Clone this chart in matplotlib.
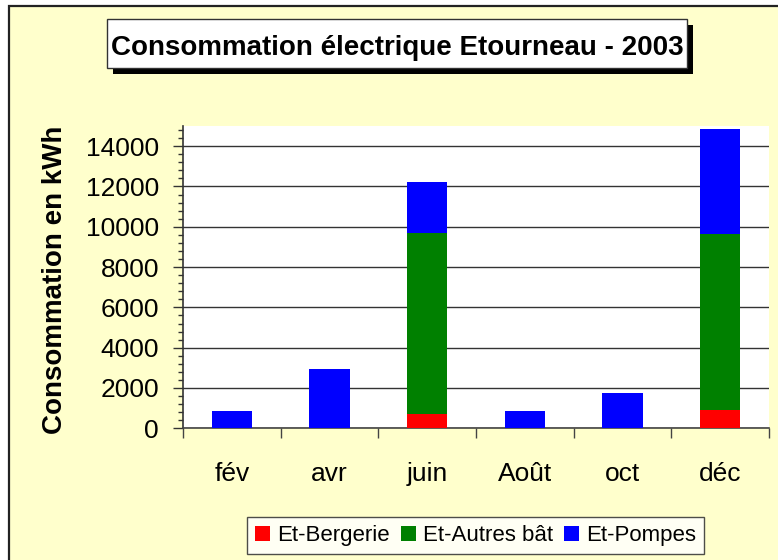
import matplotlib
matplotlib.use("Agg")
import matplotlib.pyplot as plt
from matplotlib.patches import Rectangle
from matplotlib.ticker import MultipleLocator, FixedLocator
import numpy as np

plt.rcParams['font.family'] = ['Liberation Sans', 'DejaVu Sans']

months = ['fév', 'avr', 'juin', 'Août', 'oct', 'déc']
bergerie = [0, 0, 720, 0, 0, 920]
autres = [0, 0, 8960, 0, 0, 8720]
pompes = [860, 2920, 2520, 860, 1750, 5190]
series_names = ['Et-Bergerie', 'Et-Autres bât', 'Et-Pompes']
series_colors = ['#FF0000', '#008000', '#0000FF']
title = 'Consommation électrique Etourneau - 2003'
ylabel = 'Consommation en kWh'

W, H = 778, 560
fig = plt.figure(figsize=(W / 100, H / 100), dpi=100)
fig.patch.set_facecolor('white')

def fx(px):
    return px / W

def fy(py):
    return 1 - py / H

# yellow chart area with border
fig.patches.append(Rectangle((fx(9), -0.1), 1.2, fy(6) + 0.1, transform=fig.transFigure,
                             facecolor='#FFFFCC', edgecolor='#222222', lw=1.6, zorder=-2))

# title box with shadow
bx0, bx1, by0, by1 = 107, 687, 19, 68
fig.patches.append(Rectangle((fx(bx0 + 6), fy(by1 + 6)), fx(bx1 - bx0), (by1 - by0) / H,
                             transform=fig.transFigure, facecolor='black', edgecolor='none', zorder=1))
fig.patches.append(Rectangle((fx(bx0), fy(by1)), fx(bx1 - bx0), (by1 - by0) / H,
                             transform=fig.transFigure, facecolor='white', edgecolor='#333333',
                             lw=1, zorder=2))
fig.text(fx((bx0 + bx1) / 2), fy(48), title, ha='center', va='center',
         fontsize=20, fontweight='bold', zorder=3)

ax = fig.add_axes([fx(183), fy(428.3), fx(769 - 183), (428.3 - 126) / H])
ax.set_zorder(5)
ax.set_facecolor('white')
x = np.arange(len(months))
w = 0.41
b1 = ax.bar(x, bergerie, w, color=series_colors[0], zorder=3)
b2 = ax.bar(x, autres, w, bottom=bergerie, color=series_colors[1], zorder=3)
bottom3 = np.array(bergerie) + np.array(autres)
b3 = ax.bar(x, pompes, w, bottom=bottom3, color=series_colors[2], zorder=3)

ax.set_xlim(-0.5, len(months) - 0.5)
ax.set_ylim(0, 15000)
ax.yaxis.set_major_locator(FixedLocator(np.arange(0, 14001, 2000)))
ax.yaxis.set_minor_locator(MultipleLocator(400))
ax.yaxis.grid(True, which='major', color='#333333', lw=1, zorder=1)
ax.set_axisbelow(True)

ax.set_xticks(x)
ax.set_xticklabels(months)
ax.xaxis.set_minor_locator(FixedLocator(np.arange(-0.5, len(months), 1.0)))
ax.tick_params(axis='x', which='major', length=0, pad=24, labelsize=19)
ax.tick_params(axis='x', which='minor', length=7, width=1, color='#444444', direction='out')
ax.tick_params(axis='y', which='major', length=7.2, width=1, color='#333333', pad=10, labelsize=19)
ax.tick_params(axis='y', which='minor', length=3.6, width=1, color='#333333')

for s in ['top', 'right']:
    ax.spines[s].set_visible(False)
ax.spines['left'].set_color('#333333')
ax.spines['bottom'].set_color('#444444')
ax.spines['left'].set_linewidth(1.2)
ax.spines['bottom'].set_linewidth(1.2)

fig.text(fx(55), fy(280), ylabel, rotation=90, ha='center', va='center',
         fontsize=20, fontweight='bold')

leg = fig.legend([b1, b2, b3], series_names, loc='center',
                 bbox_to_anchor=(fx(475.5), fy(535.5)), ncol=3, fontsize=16,
                 frameon=True, fancybox=False, shadow=False, edgecolor='#222222',
                 handlelength=0.68, handleheight=0.64, handletextpad=0.32,
                 columnspacing=0.5, borderpad=0.35, borderaxespad=0)
leg.get_frame().set_linewidth(1)
leg.get_frame().set_facecolor('white')

fig.savefig('out.png', dpi=100, facecolor=fig.get_facecolor())
